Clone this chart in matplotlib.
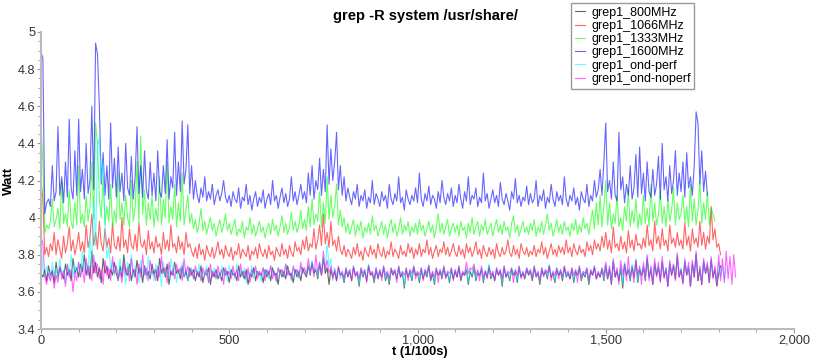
import numpy as np
import matplotlib
matplotlib.use("Agg")
import matplotlib.pyplot as plt
from matplotlib.ticker import MultipleLocator, FuncFormatter

STEP = 5  # sampling interval of the read-off values (1/100 s)

labels = ["grep1_800MHz", "grep1_1066MHz", "grep1_1333MHz",
          "grep1_1600MHz", "grep1_ond-perf", "grep1_ond-noperf"]
colors = ["#000000", "#ff0000", "#00ff00", "#0000ff", "#00ffff", "#ff00ff"]

w800 = [3.70, 3.68, 3.72, 3.66, 3.74, 3.69, 3.71, 3.65, 3.76, 3.68, 3.73, 3.70, 3.67, 3.75, 3.69, 3.72, 3.66, 3.78, 3.70, 3.73,
        3.68, 3.75, 3.71, 3.80, 3.69, 3.74, 3.67, 3.82, 3.70, 3.76, 3.68, 3.73, 3.65, 3.78, 3.70, 3.74, 3.67, 3.72, 3.69, 3.76,
        3.70, 3.66, 3.74, 3.68, 3.80, 3.71, 3.69, 3.75, 3.66, 3.72, 3.68, 3.77, 3.70, 3.73, 3.65, 3.74, 3.69, 3.71, 3.67, 3.75,
        3.69, 3.72, 3.66, 3.78, 3.70, 3.73, 3.68, 3.75, 3.64, 3.71, 3.69, 3.76, 3.70, 3.72, 3.67, 3.74, 3.68, 3.71, 3.66, 3.73,
        3.69, 3.72, 3.66, 3.71, 3.68, 3.74, 3.65, 3.70, 3.69, 3.73, 3.64, 3.71, 3.68, 3.72, 3.67, 3.70, 3.66, 3.73, 3.69, 3.71,
        3.65, 3.72, 3.69, 3.70, 3.66, 3.74, 3.68, 3.71, 3.67, 3.72, 3.64, 3.70, 3.68, 3.73, 3.66, 3.71, 3.69, 3.70, 3.65, 3.72,
        3.68, 3.71, 3.66, 3.73, 3.69, 3.70, 3.64, 3.72, 3.68, 3.71, 3.67, 3.74, 3.69, 3.70, 3.65, 3.72, 3.68, 3.71, 3.66, 3.73,
        3.70, 3.68, 3.74, 3.69, 3.76, 3.70, 3.72, 3.67, 3.75, 3.69, 3.78, 3.70, 3.73, 3.64, 3.72, 3.68, 3.71, 3.66, 3.73, 3.69,
        3.70, 3.65, 3.72, 3.68, 3.71, 3.66, 3.73, 3.69, 3.70, 3.63, 3.72, 3.68, 3.71, 3.66, 3.74, 3.69, 3.70, 3.65, 3.72, 3.67,
        3.71, 3.68, 3.73, 3.66, 3.70, 3.64, 3.72, 3.69, 3.71, 3.67, 3.73, 3.68, 3.70, 3.62, 3.72, 3.68, 3.71, 3.66, 3.73, 3.69,
        3.70, 3.65, 3.72, 3.67, 3.71, 3.68, 3.74, 3.66, 3.70, 3.64, 3.72, 3.69, 3.71, 3.67, 3.73, 3.68, 3.70, 3.65, 3.72, 3.67,
        3.71, 3.68, 3.73, 3.66, 3.70, 3.69, 3.72, 3.64, 3.71, 3.68, 3.73, 3.66, 3.70, 3.69, 3.72, 3.65, 3.71, 3.68, 3.74, 3.67,
        3.70, 3.66, 3.72, 3.69, 3.71, 3.63, 3.73, 3.68, 3.70, 3.66, 3.72, 3.69, 3.71, 3.65, 3.73, 3.68, 3.70, 3.67, 3.72, 3.69,
        3.71, 3.66, 3.73, 3.68, 3.70, 3.64, 3.72, 3.69, 3.71, 3.67, 3.74, 3.68, 3.70, 3.65, 3.72, 3.69, 3.71, 3.66, 3.73, 3.68,
        3.70, 3.67, 3.72, 3.65, 3.71, 3.69, 3.73, 3.66, 3.70, 3.68, 3.72, 3.64, 3.71, 3.69, 3.73, 3.67, 3.70, 3.68, 3.72, 3.66,
        3.74, 3.67, 3.72, 3.64, 3.76, 3.68, 3.71, 3.66, 3.73, 3.62, 3.75, 3.69, 3.72, 3.66, 3.74, 3.68, 3.77, 3.65, 3.72, 3.69,
        3.73, 3.66, 3.78, 3.68, 3.72, 3.64, 3.75, 3.69, 3.73, 3.66, 3.76, 3.68, 3.72, 3.63, 3.75, 3.69, 3.74, 3.67, 3.79, 3.68,
        3.72, 3.65, 3.76, 3.69, 3.73, 3.63, 3.75, 3.68, 3.80, 3.66, 3.72, 3.64, 3.76, 3.70, 3.74, 3.65, 3.77, 3.68, 3.72, 3.63,
        3.70, 3.74]

w1066 = [4.20, 4.10, 3.80, 3.84, 3.79, 3.86, 3.82, 3.92, 3.80, 3.88, 3.83, 3.78, 3.90, 3.81, 3.86, 3.95, 3.82, 3.88, 3.80, 3.85,
         3.92, 3.82, 3.87, 3.81, 3.96, 3.84, 3.89, 4.02, 3.85, 3.92, 3.83, 3.98, 3.86, 3.82, 3.94, 3.84, 3.89, 3.81, 3.97, 3.85,
         3.83, 3.90, 3.82, 4.00, 3.84, 3.88, 3.81, 3.94, 3.85, 3.83, 3.91, 3.82, 3.97, 3.86, 3.84, 3.88, 3.80, 3.93, 3.83, 3.87,
         3.81, 3.90, 3.84, 3.86, 3.80, 3.92, 3.83, 3.88, 3.82, 3.96, 3.84, 3.86, 3.81, 3.90, 3.83, 3.87, 3.80, 3.92, 3.84, 3.86,
         3.82, 3.79, 3.84, 3.78, 3.86, 3.80, 3.83, 3.77, 3.85, 3.81, 3.79, 3.84, 3.78, 3.82, 3.87, 3.80, 3.83, 3.78, 3.85, 3.81,
         3.79, 3.84, 3.77, 3.82, 3.80, 3.86, 3.78, 3.83, 3.81, 3.79, 3.85, 3.77, 3.82, 3.80, 3.84, 3.78, 3.86, 3.81, 3.79, 3.83,
         3.78, 3.85, 3.80, 3.82, 3.77, 3.84, 3.81, 3.79, 3.86, 3.80, 3.83, 3.78, 3.85, 3.81, 3.79, 3.87, 3.82, 3.84, 3.80, 3.88,
         3.83, 3.90, 3.82, 3.86, 3.84, 3.94, 3.83, 3.88, 3.96, 3.85, 4.02, 3.86, 3.92, 3.84, 3.98, 3.85, 3.88, 3.82, 3.90, 3.83,
         3.80, 3.85, 3.79, 3.83, 3.81, 3.78, 3.84, 3.80, 3.86, 3.79, 3.82, 3.77, 3.84, 3.81, 3.79, 3.85, 3.80, 3.83, 3.78, 3.86,
         3.81, 3.79, 3.84, 3.78, 3.82, 3.80, 3.87, 3.79, 3.83, 3.81, 3.78, 3.85, 3.80, 3.82, 3.79, 3.86, 3.81, 3.84, 3.78, 3.83,
         3.80, 3.86, 3.79, 3.83, 3.81, 3.88, 3.80, 3.84, 3.78, 3.82, 3.85, 3.79, 3.83, 3.81, 3.87, 3.80, 3.84, 3.79, 3.82, 3.86,
         3.81, 3.79, 3.85, 3.80, 3.83, 3.78, 3.86, 3.81, 3.84, 3.79, 3.82, 3.87, 3.80, 3.83, 3.78, 3.85, 3.81, 3.79, 3.84, 3.80,
         3.83, 3.78, 3.86, 3.81, 3.79, 3.84, 3.80, 3.82, 3.88, 3.81, 3.79, 3.85, 3.80, 3.83, 3.78, 3.86, 3.82, 3.80, 3.84, 3.79,
         3.82, 3.80, 3.85, 3.79, 3.83, 3.81, 3.87, 3.80, 3.84, 3.78, 3.82, 3.86, 3.80, 3.83, 3.79, 3.85, 3.81, 3.84, 3.80, 3.88,
         3.81, 3.84, 3.79, 3.86, 3.82, 3.80, 3.85, 3.81, 3.83, 3.79, 3.87, 3.82, 3.85, 3.80, 3.88, 3.83, 3.86, 3.82, 3.90, 3.84,
         3.92, 3.83, 3.88, 3.81, 3.95, 3.84, 3.86, 3.82, 3.90, 3.83, 3.87, 3.81, 3.93, 3.84, 3.88, 3.82, 3.91, 3.85, 3.86, 3.83,
         3.89, 3.84, 3.96, 3.85, 3.88, 3.82, 3.98, 3.86, 3.90, 3.83, 3.94, 3.85, 3.88, 3.82, 3.96, 3.86, 3.89, 3.84, 3.92, 3.85,
         3.88, 3.83, 3.97, 3.85, 3.90, 3.82, 3.94, 3.86, 3.89, 3.84, 3.98, 3.85, 3.92, 3.83, 3.90, 3.86, 4.06, 3.88, 3.94, 3.84,
         3.86, 3.80]

w1333 = [4.50, 4.30, 3.92, 3.96, 3.94, 3.98, 4.10, 3.95, 3.99, 4.05, 3.94, 4.20, 3.97, 4.02, 3.95, 4.15, 3.98, 3.94, 4.08, 3.96,
         4.28, 3.97, 4.02, 3.95, 4.12, 3.98, 4.05, 4.30, 3.99, 4.51, 4.40, 4.10, 4.00, 4.22, 3.96, 4.06, 3.98, 4.18, 3.95, 4.04,
         3.97, 4.25, 3.99, 4.08, 3.96, 4.12, 4.00, 3.95, 4.20, 3.98, 4.05, 4.30, 3.97, 4.44, 4.02, 4.15, 3.96, 4.08, 3.99, 4.12,
         3.95, 4.05, 3.98, 4.22, 3.96, 4.10, 4.00, 4.30, 3.97, 4.06, 3.99, 4.18, 3.95, 4.08, 3.98, 4.24, 3.96, 4.04, 4.12, 3.97,
         4.02, 3.94, 3.99, 3.92, 3.97, 4.05, 3.93, 3.98, 3.91, 3.96, 4.00, 3.93, 3.97, 3.90, 3.95, 3.99, 3.92, 3.96, 4.02, 3.93,
         3.97, 3.91, 3.95, 3.99, 3.90, 3.94, 3.92, 3.98, 3.89, 3.95, 3.93, 4.00, 3.91, 3.96, 3.90, 3.94, 3.98, 3.92, 3.95, 3.89,
         3.94, 3.97, 3.91, 3.99, 3.93, 3.96, 3.90, 3.95, 4.01, 3.92, 3.97, 3.91, 3.95, 4.03, 3.93, 3.98, 3.92, 3.96, 4.04, 3.94,
         3.99, 3.93, 4.06, 3.95, 4.10, 3.96, 4.02, 3.98, 4.14, 3.95, 4.08, 3.97, 4.22, 3.99, 4.12, 4.00, 4.06, 4.18, 3.96, 4.04,
         3.95, 4.00, 3.92, 3.97, 3.91, 3.95, 3.99, 3.90, 3.96, 3.93, 3.98, 3.89, 3.95, 3.92, 3.97, 3.91, 4.01, 3.93, 3.96, 3.90,
         3.94, 3.98, 3.91, 3.96, 3.89, 3.95, 3.99, 3.92, 3.97, 3.90, 3.94, 4.00, 3.91, 3.96, 3.93, 3.98, 3.90, 3.95, 3.92, 3.97,
         3.91, 3.99, 3.93, 3.96, 3.90, 3.94, 3.98, 3.92, 3.96, 3.89, 3.95, 4.02, 3.92, 3.97, 3.91, 3.95, 3.99, 3.90, 3.94, 3.97,
         3.92, 3.96, 3.90, 3.98, 3.93, 3.95, 3.89, 3.97, 3.92, 4.00, 3.91, 3.95, 3.98, 3.90, 3.96, 3.93, 3.99, 3.91, 3.94, 3.97,
         3.90, 3.95, 3.99, 3.92, 3.96, 3.91, 3.98, 3.93, 3.95, 3.89, 3.97, 4.01, 3.92, 3.96, 3.90, 3.94, 3.98, 3.92, 3.95, 3.91,
         3.97, 3.93, 3.99, 3.90, 3.95, 3.92, 3.98, 3.91, 3.96, 4.02, 3.93, 3.97, 3.90, 3.94, 3.99, 3.92, 3.96, 3.91, 3.98, 3.93,
         3.95, 3.90, 3.97, 3.93, 3.99, 3.91, 3.96, 3.92, 4.00, 3.94, 3.97, 3.91, 3.98, 4.04, 3.94, 4.08, 3.96, 4.12, 3.95, 4.06,
         4.20, 3.96, 4.08, 3.94, 4.02, 3.97, 4.12, 3.95, 4.00, 3.93, 4.06, 3.98, 4.15, 3.95, 4.04, 3.97, 4.10, 3.94, 4.02, 3.96,
         4.12, 3.97, 4.05, 3.95, 4.18, 3.98, 4.08, 3.96, 4.02, 4.14, 3.97, 4.06, 3.95, 4.10, 3.98, 4.04, 4.16, 3.96, 4.08, 3.99,
         4.02, 4.12, 3.97, 4.06, 3.95, 4.18, 3.98, 4.10, 3.96, 4.04, 4.20, 3.97, 4.08, 3.99, 4.14, 3.96, 4.05, 4.02, 3.98]

w1600 = [4.89, 4.86, 4.02, 4.08, 4.10, 4.06, 4.28, 4.09, 4.14, 4.49, 4.12, 4.22, 4.08, 4.30, 4.11, 4.53, 4.16, 4.10, 4.36, 4.12,
         4.53, 4.14, 4.26, 4.10, 4.40, 4.13, 4.20, 4.60, 4.15, 4.94, 4.88, 4.60, 4.18, 4.35, 4.12, 4.28, 4.10, 4.51, 4.16, 4.32,
         4.11, 4.38, 4.14, 4.24, 4.09, 4.40, 4.16, 4.12, 4.33, 4.10, 4.22, 4.49, 4.13, 4.28, 4.11, 4.36, 4.15, 4.10, 4.30, 4.12,
         4.24, 4.09, 4.36, 4.14, 4.11, 4.28, 4.13, 4.42, 4.10, 4.22, 4.16, 4.46, 4.12, 4.30, 4.14, 4.52, 4.18, 4.26, 4.50, 4.13,
         4.28, 4.10, 4.20, 4.12, 4.08, 4.16, 4.11, 4.22, 4.09, 4.14, 4.10, 4.18, 4.07, 4.12, 4.15, 4.09, 4.13, 4.20, 4.11, 4.08,
         4.12, 4.06, 4.14, 4.10, 4.08, 4.16, 4.05, 4.11, 4.09, 4.18, 4.07, 4.12, 4.04, 4.10, 4.14, 4.06, 4.11, 4.08, 4.15, 4.05,
         4.10, 4.13, 4.07, 4.20, 4.09, 4.12, 4.05, 4.11, 4.16, 4.08, 4.13, 4.06, 4.10, 4.22, 4.09, 4.14, 4.07, 4.12, 4.18, 4.10,
         4.14, 4.08, 4.24, 4.12, 4.28, 4.10, 4.20, 4.15, 4.32, 4.12, 4.26, 4.14, 4.50, 4.18, 4.37, 4.20, 4.30, 4.46, 4.15, 4.28,
         4.12, 4.22, 4.09, 4.16, 4.11, 4.07, 4.14, 4.10, 4.18, 4.06, 4.12, 4.09, 4.15, 4.05, 4.11, 4.08, 4.20, 4.07, 4.13, 4.10,
         4.06, 4.14, 4.09, 4.12, 4.05, 4.18, 4.10, 4.07, 4.13, 4.09, 4.22, 4.08, 4.11, 4.04, 4.15, 4.10, 4.07, 4.12, 4.09, 4.16,
         4.08, 4.24, 4.10, 4.06, 4.13, 4.09, 4.17, 4.07, 4.12, 4.10, 4.05, 4.14, 4.08, 4.20, 4.11, 4.07, 4.13, 4.09, 4.16, 4.06,
         4.12, 4.08, 4.18, 4.10, 4.05, 4.14, 4.09, 4.22, 4.07, 4.12, 4.10, 4.16, 4.06, 4.11, 4.08, 4.24, 4.09, 4.13, 4.05, 4.10,
         4.15, 4.08, 4.12, 4.06, 4.19, 4.10, 4.07, 4.13, 4.09, 4.04, 4.14, 4.10, 4.21, 4.08, 4.12, 4.06, 4.11, 4.09, 4.17, 4.07,
         4.13, 4.08, 4.10, 4.20, 4.06, 4.12, 4.09, 4.15, 4.05, 4.11, 4.08, 4.18, 4.10, 4.06, 4.14, 4.09, 4.12, 4.07, 4.22, 4.10,
         4.06, 4.12, 4.09, 4.16, 4.07, 4.11, 4.04, 4.14, 4.10, 4.08, 4.18, 4.06, 4.12, 4.09, 4.20, 4.11, 4.15, 4.26, 4.12, 4.30,
         4.51, 4.14, 4.20, 4.10, 4.30, 4.12, 4.09, 4.46, 4.15, 4.22, 4.08, 4.18, 4.12, 4.28, 4.10, 4.16, 4.34, 4.11, 4.38, 4.13,
         4.24, 4.09, 4.30, 4.14, 4.11, 4.26, 4.12, 4.18, 4.33, 4.10, 4.40, 4.15, 4.22, 4.09, 4.28, 4.13, 4.20, 4.36, 4.12, 4.24,
         4.14, 4.30, 4.11, 4.35, 4.16, 4.22, 4.12, 4.28, 4.57, 4.51, 4.18, 4.36, 4.14, 4.25, 4.12]

w_ondperf = [3.88, 3.72, 3.68, 3.74, 3.70, 3.66, 3.76, 3.69, 3.73, 3.67, 3.78, 3.70, 3.72, 3.65, 3.75, 3.69, 3.80, 3.68, 3.74, 3.70,
             3.76, 3.68, 3.82, 3.71, 3.77, 3.69, 3.90, 3.74, 4.10, 3.85, 4.38, 4.43, 4.20, 4.30, 3.95, 3.78, 3.84, 3.72, 3.76, 3.69,
             3.74, 3.66, 3.78, 3.70, 3.73, 3.64, 3.76, 3.69, 3.80, 3.68, 3.74, 3.71, 3.65, 3.77, 3.70, 3.73, 3.67, 3.79, 3.69, 3.72,
             3.66, 3.75, 3.70, 3.73, 3.63, 3.76, 3.69, 3.72, 3.67, 3.78, 3.70, 3.74, 3.65, 3.72, 3.69, 3.76, 3.68, 3.73, 3.66, 3.71,
             3.73, 3.67, 3.72, 3.70, 3.75, 3.66, 3.71, 3.69, 3.74, 3.65, 3.72, 3.70, 3.73, 3.68, 3.71, 3.67, 3.74, 3.69, 3.72, 3.66,
             3.74, 3.70, 3.71, 3.67, 3.75, 3.69, 3.72, 3.68, 3.73, 3.65, 3.71, 3.69, 3.74, 3.67, 3.72, 3.70, 3.71, 3.66, 3.73, 3.69,
             3.72, 3.67, 3.74, 3.70, 3.71, 3.65, 3.73, 3.69, 3.72, 3.68, 3.75, 3.70, 3.71, 3.66, 3.73, 3.69, 3.72, 3.67, 3.74, 3.70,
             3.71, 3.69, 3.75, 3.70, 3.77, 3.71, 3.73, 3.68, 3.76, 3.70, 3.79, 3.72, 3.86, 3.74, 3.78, 3.66, 3.73, 3.69, 3.72, 3.67,
             3.71, 3.66, 3.73, 3.69, 3.72, 3.67, 3.74, 3.70, 3.71, 3.64, 3.73, 3.69, 3.72, 3.67, 3.75, 3.70, 3.71, 3.66, 3.73, 3.68,
             3.72, 3.69, 3.74, 3.67, 3.71, 3.65, 3.73, 3.70, 3.72, 3.68, 3.74, 3.69, 3.71, 3.63, 3.73, 3.69, 3.72, 3.67, 3.74, 3.70,
             3.71, 3.66, 3.73, 3.68, 3.72, 3.69, 3.75, 3.67, 3.71, 3.65, 3.73, 3.70, 3.72, 3.68, 3.74, 3.69, 3.71, 3.66, 3.73, 3.68,
             3.72, 3.69, 3.74, 3.67, 3.71, 3.70, 3.73, 3.65, 3.72, 3.69, 3.74, 3.67, 3.71, 3.70, 3.73, 3.66, 3.72, 3.69, 3.75, 3.68,
             3.71, 3.67, 3.73, 3.70, 3.72, 3.64, 3.74, 3.69, 3.71, 3.67, 3.73, 3.70, 3.72, 3.66, 3.74, 3.69, 3.71, 3.68, 3.73, 3.70,
             3.72, 3.67, 3.74, 3.69, 3.71, 3.65, 3.73, 3.70, 3.72, 3.68, 3.75, 3.69, 3.71, 3.66, 3.73, 3.70, 3.72, 3.67, 3.74, 3.69,
             3.71, 3.68, 3.73, 3.66, 3.72, 3.70, 3.74, 3.67, 3.71, 3.69, 3.73, 3.65, 3.72, 3.70, 3.74, 3.68, 3.71, 3.69, 3.73, 3.67,
             3.75, 3.68, 3.73, 3.65, 3.77, 3.69, 3.72, 3.67, 3.74, 3.64, 3.76, 3.70, 3.73, 3.67, 3.75, 3.69, 3.78, 3.66, 3.73, 3.70,
             3.74, 3.67, 3.79, 3.69, 3.73, 3.65, 3.76, 3.70, 3.74, 3.67, 3.77, 3.69, 3.73, 3.64, 3.76, 3.70, 3.75, 3.68, 3.80, 3.69,
             3.73, 3.66, 3.77, 3.70, 3.74, 3.64, 3.76, 3.69, 3.81, 3.67, 3.73, 3.65, 3.77, 3.71, 3.75, 3.66, 3.78, 3.69, 3.73, 3.65,
             3.76, 3.68, 3.74, 3.66, 3.72]

w_ondnoperf = [3.90, 3.86, 3.68, 3.64, 3.70, 3.66, 3.72, 3.62, 3.69, 3.65, 3.74, 3.67, 3.71, 3.63, 3.75, 3.68, 3.72, 3.60, 3.70, 3.66,
               3.76, 3.68, 3.73, 3.65, 3.78, 3.69, 3.74, 3.66, 3.80, 3.70, 3.75, 3.67, 3.72, 3.64, 3.77, 3.69, 3.73, 3.66, 3.79, 3.70,
               3.74, 3.67, 3.71, 3.65, 3.76, 3.69, 3.73, 3.66, 3.78, 3.70, 3.72, 3.64, 3.75, 3.68, 3.80, 3.69, 3.73, 3.66, 3.77, 3.70,
               3.72, 3.66, 3.74, 3.68, 3.79, 3.70, 3.73, 3.65, 3.76, 3.69, 3.72, 3.67, 3.75, 3.70, 3.73, 3.66, 3.78, 3.69, 3.74, 3.68,
               3.72, 3.67, 3.74, 3.69, 3.71, 3.66, 3.73, 3.70, 3.72, 3.65, 3.75, 3.68, 3.71, 3.67, 3.74, 3.69, 3.72, 3.64, 3.73, 3.69,
               3.71, 3.67, 3.74, 3.68, 3.72, 3.66, 3.75, 3.69, 3.71, 3.67, 3.73, 3.65, 3.72, 3.70, 3.74, 3.67, 3.71, 3.69, 3.73, 3.66,
               3.72, 3.69, 3.74, 3.67, 3.71, 3.66, 3.73, 3.70, 3.72, 3.68, 3.75, 3.69, 3.71, 3.67, 3.74, 3.70, 3.72, 3.68, 3.76, 3.70,
               3.73, 3.69, 3.78, 3.71, 3.75, 3.68, 3.80, 3.70, 3.76, 3.69, 3.82, 3.72, 3.77, 3.70, 3.74, 3.67, 3.72, 3.66, 3.74, 3.69,
               3.71, 3.67, 3.73, 3.69, 3.72, 3.66, 3.74, 3.68, 3.71, 3.67, 3.73, 3.70, 3.72, 3.65, 3.74, 3.69, 3.71, 3.67, 3.73, 3.68,
               3.72, 3.66, 3.74, 3.69, 3.71, 3.67, 3.73, 3.70, 3.72, 3.65, 3.74, 3.68, 3.71, 3.69, 3.73, 3.66, 3.72, 3.70, 3.74, 3.67,
               3.71, 3.69, 3.73, 3.66, 3.72, 3.70, 3.74, 3.67, 3.71, 3.68, 3.73, 3.65, 3.72, 3.69, 3.74, 3.67, 3.71, 3.70, 3.73, 3.66,
               3.72, 3.68, 3.74, 3.67, 3.71, 3.69, 3.76, 3.70, 3.73, 3.72, 3.75, 3.69, 3.72, 3.66, 3.74, 3.68, 3.71, 3.67, 3.73, 3.69,
               3.71, 3.66, 3.73, 3.69, 3.72, 3.67, 3.74, 3.68, 3.71, 3.70, 3.73, 3.65, 3.72, 3.69, 3.74, 3.67, 3.71, 3.68, 3.73, 3.70,
               3.72, 3.67, 3.74, 3.69, 3.71, 3.66, 3.73, 3.68, 3.72, 3.70, 3.74, 3.66, 3.71, 3.69, 3.73, 3.67, 3.72, 3.68, 3.74, 3.70,
               3.71, 3.67, 3.73, 3.69, 3.72, 3.65, 3.74, 3.68, 3.71, 3.70, 3.73, 3.66, 3.72, 3.69, 3.74, 3.67, 3.71, 3.68, 3.73, 3.69,
               3.76, 3.67, 3.74, 3.65, 3.78, 3.68, 3.73, 3.64, 3.77, 3.69, 3.75, 3.66, 3.79, 3.68, 3.73, 3.65, 3.77, 3.69, 3.74, 3.64,
               3.76, 3.68, 3.80, 3.66, 3.74, 3.64, 3.78, 3.68, 3.76, 3.65, 3.79, 3.67, 3.73, 3.63, 3.77, 3.69, 3.75, 3.66, 3.81, 3.68,
               3.72, 3.64, 3.78, 3.69, 3.76, 3.63, 3.77, 3.68, 3.82, 3.66, 3.74, 3.64, 3.78, 3.70, 3.76, 3.65, 3.79, 3.67, 3.74, 3.64,
               3.80, 3.66, 3.78, 3.65, 3.82, 3.67, 3.79, 3.64, 3.80, 3.68]

series = [w800, w1066, w1333, w1600, w_ondperf, w_ondnoperf]

plt.rcParams['font.family'] = ['Liberation Sans', 'DejaVu Sans']
fig = plt.figure(figsize=(8.16, 3.58), dpi=100)
ax = fig.add_axes([41 / 816, 1 - 329 / 358, (794 - 41) / 816, (329 - 32) / 358])

for vals, lab, col in zip(series, labels, colors):
    t = np.arange(len(vals)) * STEP
    ax.plot(t, vals, color=col, lw=0.8, alpha=0.6, label=lab)

ax.set_xlim(0, 2000)
ax.set_ylim(3.4, 5.0)
ax.xaxis.set_major_locator(MultipleLocator(500))
ax.xaxis.set_minor_locator(MultipleLocator(100))
ax.yaxis.set_major_locator(MultipleLocator(0.2))
ax.yaxis.set_minor_locator(MultipleLocator(0.05))
ax.xaxis.set_major_formatter(FuncFormatter(lambda v, p: f"{int(v):,}"))
ax.yaxis.set_major_formatter(FuncFormatter(lambda v, p: f"{v:g}"))

for s in ("top", "right"):
    ax.spines[s].set_visible(False)
for s in ("left", "bottom"):
    ax.spines[s].set_color("#bbbbbb")
    ax.spines[s].set_linewidth(1.5)
ax.tick_params(which="both", direction="out", color="#999999", labelsize=9.2,
               labelcolor="#333333", pad=1)
ax.tick_params(which="major", length=3)
ax.tick_params(which="minor", length=2)

fig.text(425 / 816, 1 - 16 / 358, "grep -R system /usr/share/", fontsize=10.5,
         fontweight="bold", ha="center", va="center")
fig.text(420 / 816, 0.3 / 358, "t (1/100s)", fontsize=9.3,
         fontweight="bold", ha="center", va="bottom")
fig.text(9 / 816, 1 - 181 / 358, "Watt", fontsize=9.5, fontweight="bold",
         ha="center", va="center", rotation=90)

leg = ax.legend(loc="upper left", bbox_to_anchor=(571 / 816, 1 - 3 / 358),
                bbox_transform=fig.transFigure, borderaxespad=0, fontsize=9,
                handlelength=0.8, handletextpad=0.5, labelspacing=0.1,
                borderpad=0.3, fancybox=False, framealpha=1)
leg.get_frame().set_edgecolor("#999999")
leg.get_frame().set_linewidth(1.0)

fig.savefig("out.png", dpi=100)
